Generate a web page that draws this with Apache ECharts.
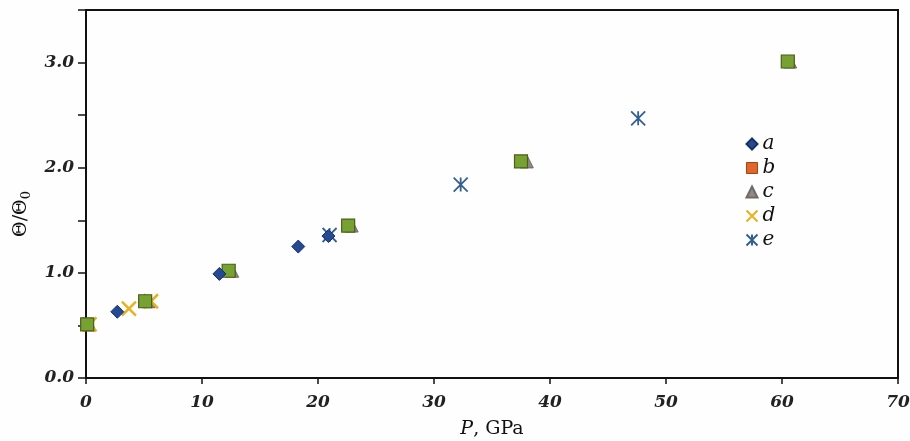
<!DOCTYPE html>
<html>
<head>
<meta charset="utf-8">
<script src="https://cdn.jsdelivr.net/npm/echarts@6/dist/echarts.min.js"></script>
<style>html,body{margin:0;padding:0;background:#fff}#c{width:910px;height:441px}</style>
</head>
<body>
<div id="c"></div>
<script>
// Data (x = P in GPa, y = Θ/Θ0)
const seriesNames = ['a', 'b', 'c', 'd', 'e'];
const dataA = [[2.7, 0.63], [11.5, 0.99], [18.3, 1.25], [20.9, 1.35]];
const dataB = [[0.1, 0.51], [5.1, 0.73], [12.3, 1.02], [22.6, 1.45], [37.5, 2.06], [60.5, 3.01]];
const dataC = [[0.3, 0.51], [5.4, 0.73], [12.6, 1.02], [22.9, 1.45], [38.0, 2.06], [60.7, 3.01]];
const dataD = [[0.3, 0.51], [3.7, 0.66], [5.6, 0.73]];
const dataE = [[21.0, 1.36], [32.3, 1.84], [47.6, 2.47]];
const xTicks = [0, 10, 20, 30, 40, 50, 60, 70];
const yLabelValues = [0, 1, 2, 3];

const serif = '"DejaVu Serif", "Liberation Serif", serif';
const chart = echarts.init(document.getElementById('c'));
const axisLine = { show: true, lineStyle: { color: '#111', width: 2 } };

chart.setOption({
  animation: false,
  backgroundColor: '#fefefe',
  grid: { left: 86, right: 12, top: 10, bottom: 63, outerBoundsMode: 'none', containLabel: false,
    show: true, borderColor: '#111', borderWidth: 2, backgroundColor: 'transparent' },
  legend: {
    orient: 'vertical', left: 739, top: 129, itemGap: 4, itemWidth: 11, itemHeight: 11,
    textStyle: { fontFamily: serif, fontStyle: 'italic', fontSize: 20, color: '#111' },
    data: [
      { name: 'a' },
      { name: 'b', itemStyle: { color: '#e0662a', borderColor: '#a0441a', borderWidth: 1, opacity: 1 } },
      { name: 'c' },
      { name: 'd' },
      { name: 'e' }
    ]
  },
  xAxis: {
    type: 'value', min: xTicks[0], max: xTicks[xTicks.length - 1], interval: 10,
    name: '{i|P}, GPa', nameLocation: 'middle', nameGap: 42,
    nameTextStyle: { fontFamily: serif, fontSize: 19, color: '#111', rich: { i: { fontFamily: serif, fontStyle: 'italic', fontSize: 19, color: '#111' } } },
    axisLine: axisLine, splitLine: { show: false },
    axisTick: { show: true, length: 6, inside: false, lineStyle: { color: '#111', width: 1.5 } },
    axisLabel: { fontFamily: serif, fontStyle: 'italic', fontWeight: 'bold', fontSize: 17, color: '#222', margin: 16 }
  },
  yAxis: {
    type: 'value', min: 0, max: 3.5, interval: 0.5,
    name: 'Θ/Θ{s|0}', nameLocation: 'middle', nameGap: 52, nameRotate: 90,
    nameTextStyle: { fontFamily: serif, fontSize: 19, color: '#111', padding: [0, 40, 0, 0], rich: { s: { fontFamily: serif, fontSize: 13, color: '#111', verticalAlign: 'bottom', padding: [12, 0, 0, 0] } } },
    axisLine: axisLine, splitLine: { show: false },
    axisTick: { show: true, length: 8, inside: false, lineStyle: { color: '#111', width: 1.5 } },
    axisLabel: {
      fontFamily: serif, fontStyle: 'italic', fontWeight: 'bold', fontSize: 17, color: '#222', margin: 12,
      formatter: v => (yLabelValues.indexOf(v) >= 0 ? v.toFixed(1) : '')
    }
  },
  series: [
    { name: 'c', type: 'scatter', data: dataC, symbol: 'triangle', symbolSize: 13, z: 1,
      itemStyle: { color: '#8f8a85', borderColor: '#6f6a66', borderWidth: 1, opacity: 1 } },
    { name: 'd', type: 'scatter', data: dataD, symbol: 'path://M0,0L10,10M10,0L0,10', symbolSize: 14, z: 2,
      itemStyle: { color: 'none', borderColor: '#e8b21e', borderWidth: 2.5, opacity: 1 } },
    { name: 'b', type: 'scatter', data: dataB, symbol: 'rect', symbolSize: 13, z: 3,
      itemStyle: { color: '#76a232', borderColor: '#4f5c1a', borderWidth: 1.2, opacity: 1 } },
    { name: 'e', type: 'scatter', data: dataE, symbol: 'path://M0,0L10,10M10,0L0,10M5,0L5,10', symbolSize: 14, z: 4,
      itemStyle: { color: 'none', borderColor: '#34608f', borderWidth: 1.8, opacity: 1 } },
    { name: 'a', type: 'scatter', data: dataA, symbol: 'diamond', symbolSize: 13, z: 5,
      itemStyle: { color: '#264a92', borderColor: '#17306a', borderWidth: 1, opacity: 1 } }
  ]
});
</script>
</body>
</html>
